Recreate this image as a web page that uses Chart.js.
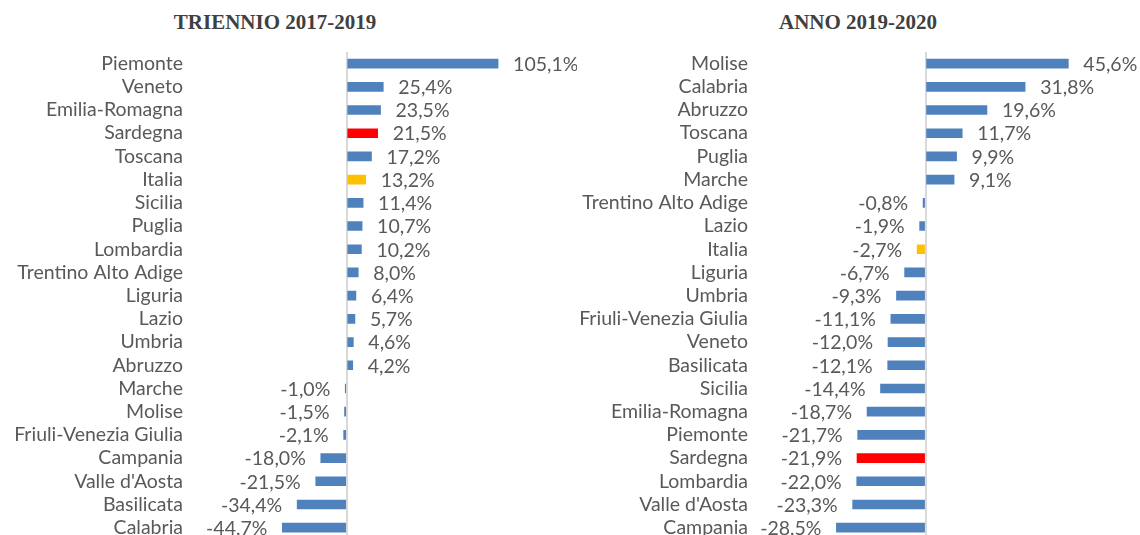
<!DOCTYPE html>
<html>
<head>
<meta charset="utf-8">
<script src="https://cdn.jsdelivr.net/npm/chart.js@4/dist/chart.umd.min.js"></script>
<style>
  html, body { margin: 0; padding: 0; background: #fff; overflow: hidden; }
  body { width: 1140px; height: 535px; position: relative; }
  .titolo {
    position: absolute; top: 10px; transform: translateX(-50%);
    font: bold 21px 'Liberation Serif', 'Times New Roman', serif;
    color: #404040; line-height: 24px; white-space: nowrap;
  }
  .box { position: absolute; top: 0; height: 558px; }
</style>
</head>
<body>
<div class="titolo" style="left:275px">TRIENNIO 2017-2019</div>
<div class="titolo" style="left:858px">ANNO 2019-2020</div>
<div class="box" style="left:0; width:577px"><canvas id="chartTriennio"></canvas></div>
<div class="box" style="left:580px; width:560px"><canvas id="chartAnno"></canvas></div>
<script>
const regioniTriennio = ['Piemonte', 'Veneto', 'Emilia-Romagna', 'Sardegna', 'Toscana', 'Italia', 'Sicilia', 'Puglia', 'Lombardia', 'Trentino Alto Adige', 'Liguria', 'Lazio', 'Umbria', 'Abruzzo', 'Marche', 'Molise', 'Friuli-Venezia Giulia', 'Campania', "Valle d'Aosta", 'Basilicata', 'Calabria']
const valoriTriennio = [105.1, 25.4, 23.5, 21.5, 17.2, 13.2, 11.4, 10.7, 10.2, 8.0, 6.4, 5.7, 4.6, 4.2, -1.0, -1.5, -2.1, -18.0, -21.5, -34.4, -44.7]

const regioniAnno = ['Molise', 'Calabria', 'Abruzzo', 'Toscana', 'Puglia', 'Marche', 'Trentino Alto Adige', 'Lazio', 'Italia', 'Liguria', 'Umbria', 'Friuli-Venezia Giulia', 'Veneto', 'Basilicata', 'Sicilia', 'Emilia-Romagna', 'Piemonte', 'Sardegna', 'Lombardia', "Valle d'Aosta", 'Campania']
const valoriAnno = [45.6, 31.8, 19.6, 11.7, 9.9, 9.1, -0.8, -1.9, -2.7, -6.7, -9.3, -11.1, -12.0, -12.1, -14.4, -18.7, -21.7, -21.9, -22.0, -23.3, -28.5]

const BLU = '#4F81BD'
const ROSSO = '#FF0000'
const GIALLO = '#FFC000'
const GRIGIO = '#595959'
const FONT = { family: 'Lato, "Liberation Sans", sans-serif', size: 19.5 }

// Sardegna in rosso, Italia in giallo, il resto blu
const coloriBarre = (regioni) =>
  regioni.map((r) => (r === 'Sardegna' ? ROSSO : r === 'Italia' ? GIALLO : BLU))

const formatta = (v) => v.toFixed(1).replace('.', ',') + '%'

// etichette dei valori fuori dalla fine della barra
const etichettePlugin = {
  id: 'etichette',
  afterDatasetsDraw(chart) {
    const ctx = chart.ctx
    const meta = chart.getDatasetMeta(0)
    const valori = chart.data.datasets[0].data
    ctx.save()
    ctx.font = FONT.size + 'px ' + FONT.family
    ctx.fillStyle = GRIGIO
    ctx.textBaseline = 'middle'
    meta.data.forEach((bar, i) => {
      const v = valori[i]
      if (v >= 0) {
        ctx.textAlign = 'left'
        ctx.fillText(formatta(v), bar.x + 15, bar.y + 1)
      } else {
        ctx.textAlign = 'right'
        ctx.fillText(formatta(v), bar.x - 15, bar.y + 1)
      }
    })
    ctx.restore()
  },
}

const creaGrafico = (id, regioni, valori, min, max, larghezzaAsse) => {
  const ctx = document.getElementById(id).getContext('2d')
  return new Chart(ctx, {
    type: 'bar',
    data: {
      labels: regioni,
      datasets: [
        {
          data: valori,
          backgroundColor: coloriBarre(regioni),
          borderWidth: 0,
          barThickness: 9,
        },
      ],
    },
    options: {
      indexAxis: 'y',
      responsive: true,
      maintainAspectRatio: false,
      animation: false,
      layout: { padding: { top: 52, bottom: 0, left: 0, right: 0 } },
      plugins: { legend: { display: false }, tooltip: { enabled: false } },
      scales: {
        x: {
          min: min,
          max: max,
          z: 1,
          afterBuildTicks: (axis) => {
            axis.ticks = [{ value: 0 }]
          },
          afterFit: (scale) => {
            scale.height = 0
          },
          ticks: { display: false },
          border: { display: false },
          grid: { color: '#D9D9D9', lineWidth: 2, drawTicks: false },
        },
        y: {
          afterFit: (scale) => {
            scale.width = larghezzaAsse
          },
          ticks: { color: GRIGIO, font: FONT, padding: 7, autoSkip: false },
          grid: { display: false, drawTicks: false },
          border: { display: false },
        },
      },
    },
    plugins: [etichettePlugin],
  })
}

creaGrafico('chartTriennio', regioniTriennio, valoriTriennio, -108.8, 159.9, 190)
creaGrafico('chartAnno', regioniAnno, valoriAnno, -54.5, 68.5, 175)
</script>
</body>
</html>
